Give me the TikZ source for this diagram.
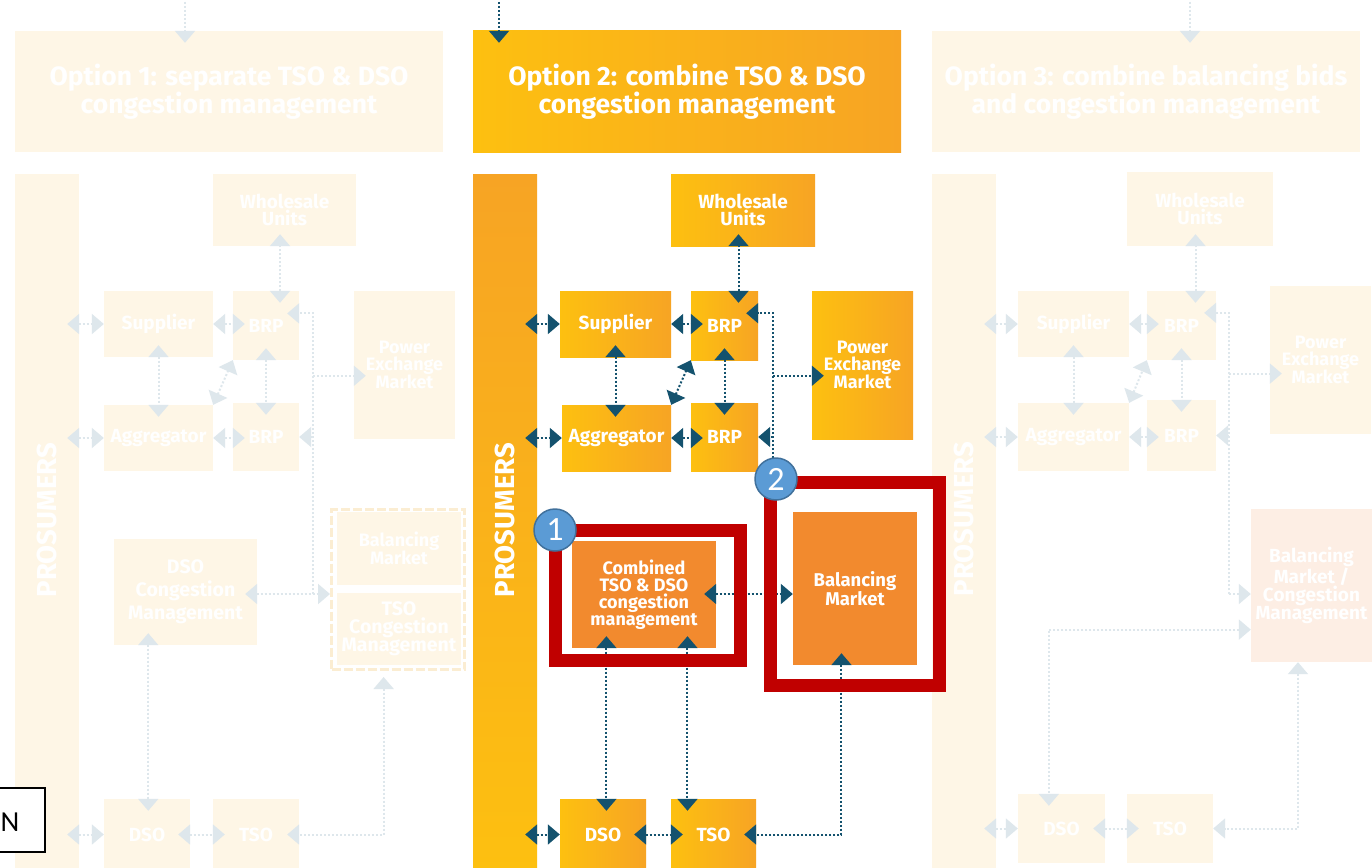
\documentclass[tikz,border=0pt]{standalone}
\usepackage{fontspec}
\setmainfont{Fira Sans}
\newfontfamily\calibri{Carlito}
\usepackage{xcolor}
\usepackage{tikz}
\usetikzlibrary{
    positioning,
    arrows.meta,
    calc
}
\definecolor{hotYellow}{RGB}{253, 192, 16}
\definecolor{hotOrange}{RGB}{247, 164, 36}
\definecolor{deepOrange}{RGB}{242, 138, 46}
\definecolor{linkBlue}{RGB}{20, 82, 110}
\definecolor{frameRed}{RGB}{192, 0, 0}
\definecolor{badgeBlue}{RGB}{91, 155, 213}
\definecolor{badgeEdge}{RGB}{65, 113, 156}
\definecolor{fadeCream}{RGB}{254, 246, 230}
\definecolor{fadeDash}{RGB}{251, 237, 210}
\definecolor{fadePeach}{RGB}{253, 238, 228}
\definecolor{fadeLink}{RGB}{222, 231, 236}

\begin{document}
\begin{tikzpicture}[x=1pt, y=-1pt,
    >={Triangle[length=12pt, width=20pt]},
    box/.style={inner sep=0pt, align=center, text=white, font=\bfseries\fontsize{19}{19}\selectfont},
    fs/.style 2 args={font=\bfseries\fontsize{#1}{#2}\selectfont},
    wh/.style 2 args={minimum width=#1pt, minimum height=#2pt},
    hot/.style={box, left color=hotYellow, right color=hotOrange},
    warm/.style={box, fill=deepOrange},
    pale/.style={box, fill=fadeCream},
    proslabel/.style={rotate=90, inner sep=0pt, text=white, fs={27.5}{27.5}},
    dashframe/.style={draw=fadeDash, line width=3pt, dash pattern=on 9pt off 3pt},
    hilite/.style={draw=frameRed, line width=13pt, inner sep=0pt, outer sep=0pt},
    badge/.style={circle, fill=badgeBlue, draw=badgeEdge, line width=1.5pt, minimum size=42pt,
        inner sep=0pt, text=white, font=\calibri\fontsize{34}{34}\selectfont},
    link/.style={draw=linkBlue, line width=2pt, dash pattern=on 2pt off 2pt},
    palelink/.style={link, draw=fadeLink},
    deep start/.style={shorten <=-12pt},
    deep end/.style={shorten >=-12pt},
    deep both/.style={deep start, deep end}]

    \fill[white] (0,0) rectangle (1372,867);
    \clip (0,0) rectangle (1372,867);

    % Option 1 (faded)
    \node[pale, fs={26.5}{27}, wh={428}{121}] (Title1) at (229,91.5) {Option 1: separate TSO \& DSO\\congestion management};
    \node[pale, wh={64}{700}] (Pros1) at (47,524) {};
    \node[proslabel] (ProsLbl1) at (47,520) {PROSUMERS};
    \node[pale, wh={143}{72}, fs={19}{15}] (Whole1) at (284.5,210) {Wholesale\\Units};
    \node[pale, wh={109}{66}] (Sup1) at (158.5,324) {Supplier};
    \node[pale, wh={66}{69}] (BRPa1) at (266,325.5) {BRP};
    \node[pale, wh={101}{148}, fs={18}{16.5}] (PEX1) at (404.5,365) {Power\\Exchange\\Market};
    \node[pale, wh={109}{66}] (Agg1) at (158.5,438) {Aggregator};
    \node[pale, wh={66}{68}] (BRPb1) at (266,437) {BRP};
    \node[pale, wh={143}{106}, fs={19.5}{23}] (DSOCM1) at (185.5,592) {DSO\\Congestion\\Management};
    \node[dashframe, wh={133}{160}] (Frame1) at (398,589.5) {};
    \node[pale, wh={124}{73}, fs={18}{15}] (BalM1) at (399,548.5) {Balancing\\Market};
    \node[pale, wh={124}{72}, fs={19.5}{18}] (TSOCM1) at (399,629) {TSO\\Congestion\\Management};
    \node[pale, wh={86}{71}] (DSO1) at (147,834.5) {DSO};
    \node[pale, wh={86}{71}] (TSO1) at (256,834.5) {TSO};
    \coordinate (In1) at (185,-2);
    \coordinate (J1) at (313,594);

    \draw[palelink, ->, deep end] (In1) -- (In1 |- Title1.north);
    \draw[palelink, <->, deep start] (Pros1.east |- Sup1) -- (Sup1.west);
    \draw[palelink, <->, deep start] (Pros1.east |- Agg1) -- (Agg1.west);
    \draw[palelink, <->, deep start] (Pros1.east |- DSO1) -- (DSO1.west);
    \draw[palelink, <->, deep end] (Sup1.east) -- (Sup1.east -| BRPa1.west);
    \draw[palelink, <->, deep end] (Agg1.east) -- (Agg1.east -| BRPb1.west);
    \draw[palelink, <->, deep both] (DSO1.east) -- (TSO1.west);
    \draw[palelink, <->, deep both] (BRPa1.68) -- (BRPa1.68 |- Whole1.south);
    \draw[palelink, <->, deep both] (Sup1.south) -- (Sup1.south |- Agg1.north);
    \draw[palelink, <->, deep both] (BRPa1.south) -- (BRPa1.south |- BRPb1.north);
    \draw[palelink, <->] (Agg1.north east) -- (BRPa1.south west);
    \draw[palelink, ->, deep end] (J1) |- (BRPa1.20);
    \draw[palelink, ->, deep end] (J1 |- PEX1.192) -- (PEX1.192);
    \draw[palelink, ->] (J1 |- BRPb1.east) -- (BRPb1.east);
    \draw[palelink, <->, deep start] (DSOCM1.east |- J1) -- (Frame1.west |- J1);
    \draw[palelink, <->, deep both] (DSOCM1.235) -- (DSOCM1.235 |- DSO1.north);
    \draw[palelink, <->, shorten <=6pt, deep end] (Frame1.260) |- (TSO1.east);

    % Option 2
    \node[hot, fs={26.5}{27}, wh={428}{121}] (Title2) at (687,91.5) {Option 2: combine TSO \& DSO\\congestion management};
    \node[box, top color=hotOrange, bottom color=hotYellow, wh={64}{700}] (Pros2) at (505,524) {};
    \node[proslabel] (ProsLbl2) at (505,520) {PROSUMERS};
    \node[hot, wh={144}{72}, fs={19}{15}] (Whole2) at (743,210) {Wholesale\\Units};
    \node[hot, wh={111}{66}] (Sup2) at (615.5,324) {Supplier};
    \node[hot, wh={67}{69}] (BRPa2) at (724.5,325.5) {BRP};
    \node[hot, wh={101}{148}, fs={18}{16.5}] (PEX2) at (862.5,365) {Power\\Exchange\\Market};
    \node[hot, wh={109}{66}] (Agg2) at (616.5,438) {Aggregator};
    \node[hot, wh={67}{68}] (BRPb2) at (724.5,437) {BRP};
    \node[warm, wh={144}{107}, fs={18}{17}] (Comb2) at (644,594.5) {Combined\\TSO \& DSO\\congestion\\management};
    \node[warm, wh={124}{153}, fs={18.5}{15.5}] (Bal2) at (855,588.5) {Balancing\\Market};
    \node[hot, wh={86}{71}] (DSO2) at (603,834.5) {DSO};
    \node[hot, wh={85}{71}] (TSO2) at (713.5,834.5) {TSO};
    \coordinate (In2) at (499,-2);
    \coordinate (J2) at (773,594);

    \draw[link, ->, deep end] (In2) -- (In2 |- Title2.north);
    \draw[link, <->, deep start] (Pros2.east |- Sup2) -- (Sup2.west);
    \draw[link, <->, deep start] (Pros2.east |- Agg2) -- (Agg2.west);
    \draw[link, <->, deep start] (Pros2.east |- DSO2) -- (DSO2.west);
    \draw[link, <->, deep end] (Sup2.east) -- (Sup2.east -| BRPa2.west);
    \draw[link, <->, deep end] (Agg2.east) -- (Agg2.east -| BRPb2.west);
    \draw[link, <->, deep both] (DSO2.east) -- (TSO2.west);
    \draw[link, <->, deep both] (BRPa2.68) -- (BRPa2.68 |- Whole2.south);
    \draw[link, <->, deep both] (Sup2.south) -- (Sup2.south |- Agg2.north);
    \draw[link, <->, deep both] (BRPa2.south) -- (BRPa2.south |- BRPb2.north);
    \draw[link, <->] (Agg2.north east) -- (BRPa2.south west);
    \draw[link, ->, deep end] (J2) |- (BRPa2.20);
    \draw[link, ->, deep end] (J2 |- PEX2.192) -- (PEX2.192);
    \draw[link, ->] (J2 |- BRPb2.east) -- (BRPb2.east);
    \draw[link, <->, deep start] (Comb2.east |- J2) -- (Bal2.west |- J2);
    \draw[link, <->, deep both] (Comb2.235) -- (Comb2.235 |- DSO2.north);
    \draw[link, <->, deep both] (Comb2.309) -- (Comb2.309 |- TSO2.north);
    \draw[link, <->, deep both] (Bal2.260) |- (TSO2.east);

    % Option 3 (faded)
    \node[pale, fs={26.5}{27}, wh={428}{121}] (Title3) at (1146,91.5) {Option 3: combine balancing bids\\and congestion management};
    \node[pale, wh={64}{700}] (Pros3) at (964,524) {};
    \node[proslabel] (ProsLbl3) at (964,519) {PROSUMERS};
    \node[pale, wh={146}{74}, fs={19}{15}] (Whole3) at (1200,209) {Wholesale\\Units};
    \node[pale, wh={111}{66}] (Sup3) at (1073.5,324) {Supplier};
    \node[pale, wh={69}{69}] (BRPa3) at (1181.5,325.5) {BRP};
    \node[pale, wh={101}{148}, fs={18}{16.5}] (PEX3) at (1320.5,360) {Power\\Exchange\\Market};
    \node[pale, wh={111}{68}] (Agg3) at (1073.5,437) {Aggregator};
    \node[pale, wh={69}{71}] (BRPb3) at (1181.5,435.5) {BRP};
    \node[box, fill=fadePeach, wh={121}{153}, fs={19}{18}] (BMCM3) at (1311.5,585.5) {Balancing\\Market /\\Congestion\\Management};
    \node[pale, wh={87}{69}] (DSO3) at (1061.5,828.5) {DSO};
    \node[pale, wh={86}{69}] (TSO3) at (1170,828.5) {TSO};
    \coordinate (In3) at (1190,-2);
    \coordinate (J3) at (1229,594);

    \draw[palelink, ->, deep end] (In3) -- (In3 |- Title3.north);
    \draw[palelink, <->, deep start] (Pros3.east |- Sup3) -- (Sup3.west);
    \draw[palelink, <->, deep start] (Pros3.east |- Agg3) -- (Agg3.west);
    \draw[palelink, <->, deep start] (Pros3.east |- DSO3) -- (DSO3.west);
    \draw[palelink, <->, deep end] (Sup3.east) -- (Sup3.east -| BRPa3.west);
    \draw[palelink, <->, deep end] (Agg3.east) -- (Agg3.east -| BRPb3.west);
    \draw[palelink, <->, deep both] (DSO3.east) -- (TSO3.west);
    \draw[palelink, <->, deep both] (BRPa3.68) -- (BRPa3.68 |- Whole3.south);
    \draw[palelink, <->, deep both] (Sup3.south) -- (Sup3.south |- Agg3.north);
    \draw[palelink, <->, deep both] (BRPa3.south) -- (BRPa3.south |- BRPb3.north);
    \draw[palelink, <->] (Agg3.north east) -- (BRPa3.south west);
    \draw[palelink, ->, deep end] (J3) |- (BRPa3.20);
    \draw[palelink, ->, deep end] (J3 |- PEX3.195) -- (PEX3.195);
    \draw[palelink, ->] (J3 |- BRPb3.east) -- (BRPb3.east);
    \draw[palelink, ->] (J3) -- (J3 -| BMCM3.west);
    \draw[palelink, <->, deep end] (BMCM3.216) -| (DSO3.110);
    \draw[palelink, <->] (BMCM3.260) |- (TSO3.east);

    % Highlights on option 2
    \node[hilite, wh={185}{130}] (Hl1) at (647.5,595) {};
    \node[hilite, wh={169}{203}] (Hl2) at (855,584) {};
    \node[badge] (Num1) at (Hl1.north west) {1};
    \node[badge] (Num2) at ($(Hl2.north west)+(5.5,-3.5)$) {2};

    % box at the lower left
    \node[draw=black, line width=1.2pt, fill=white, wh={60}{64}] (NBox) at (15,820) {};
    \node[anchor=base west, inner sep=0pt, font=\calibri\fontsize{29}{29}\selectfont] (NTxt) at (0.5,831) {N};
\end{tikzpicture}
\end{document}
